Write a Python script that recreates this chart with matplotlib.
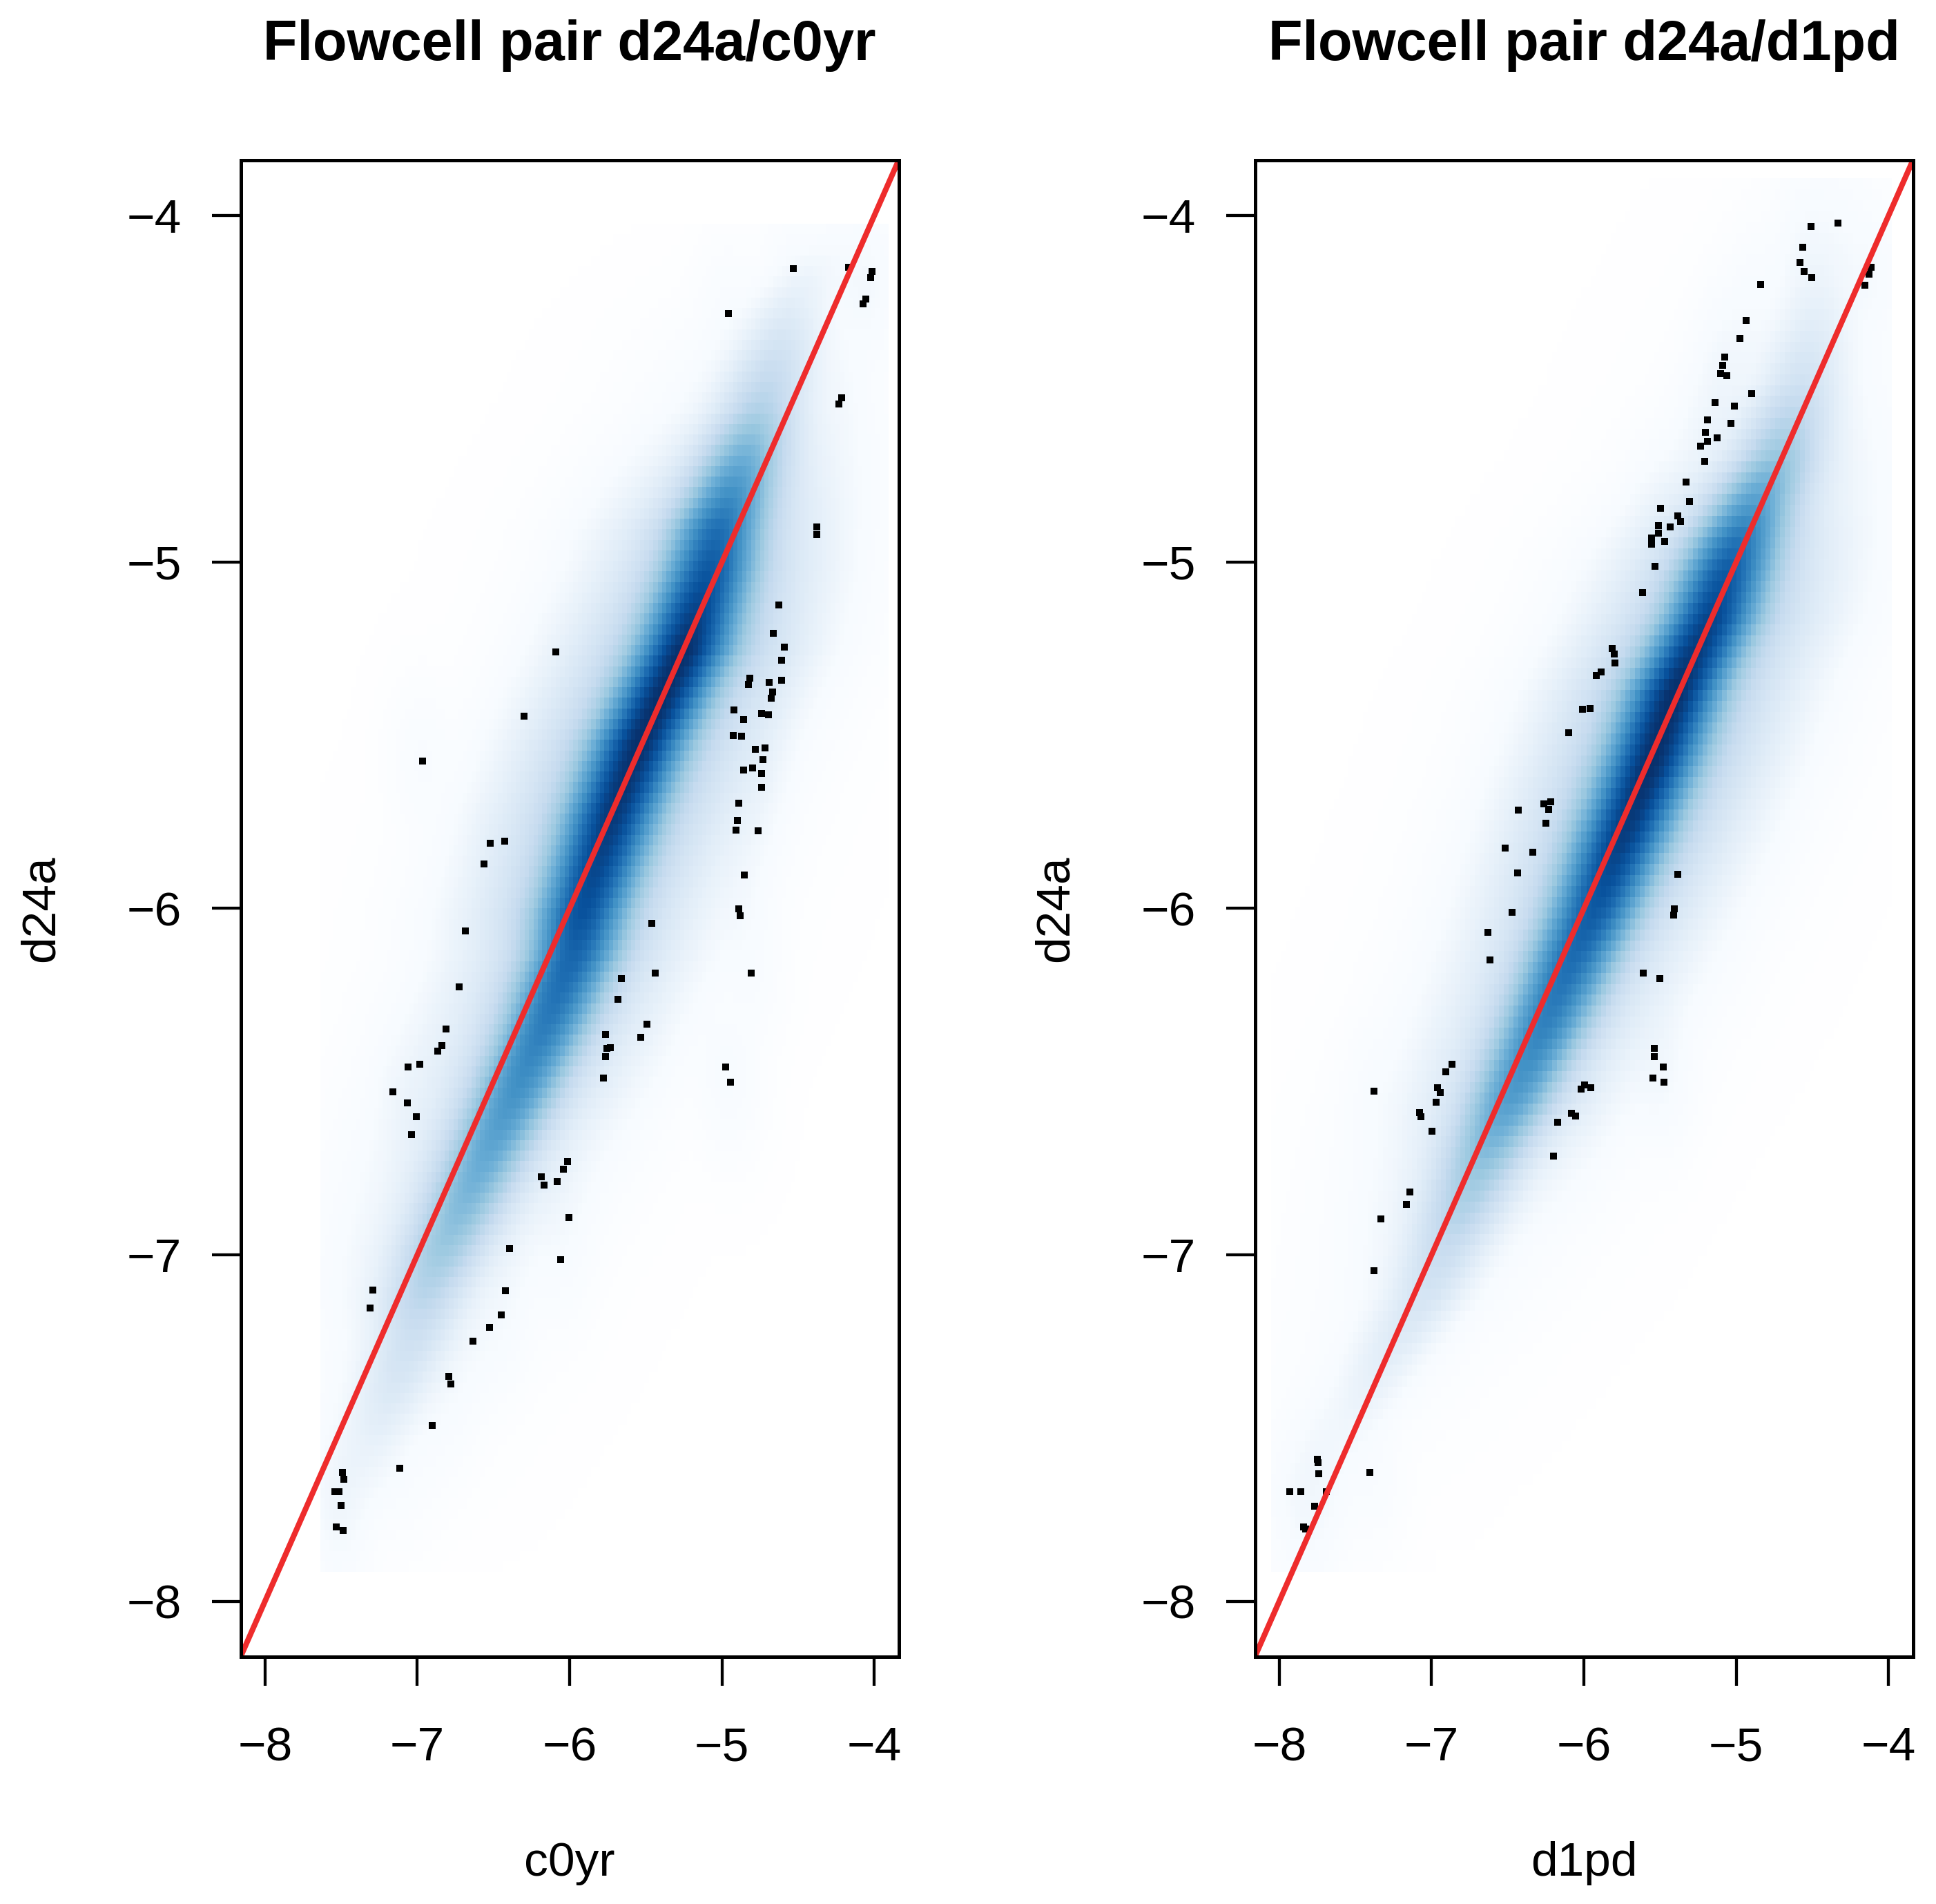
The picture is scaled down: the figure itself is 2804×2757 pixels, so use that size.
import numpy as np
import matplotlib
matplotlib.use("Agg")
import matplotlib.pyplot as plt
from matplotlib.colors import LinearSegmentedColormap

plt.rcParams['font.family'] = ['Liberation Sans', 'DejaVu Sans']

titles = ["Flowcell pair d24a/c0yr", "Flowcell pair d24a/d1pd"]
x_labels = ["c0yr", "d1pd"]
y_label = "d24a"
ticks = [-8, -7, -6, -5, -4]

# the lowest-density points that smoothScatter draws as dots
c0yr_x = [-4.533, -4.170, -4.014, -4.025, -4.056, -4.075, -4.958, -4.214, -4.234, -4.378, -4.378,
          -4.625, -4.661, -4.592, -4.608, -6.090, -4.816, -4.825, -4.689, -4.611, -4.670, -4.675,
          -4.922, -4.739, -4.694, -4.858, -6.301, -4.927, -4.872, -4.780, -4.717, -4.733, -4.858,
          -4.797, -4.742, -6.965, -4.739, -4.889, -4.897, -4.908, -4.764, -6.520, -6.426, -6.562,
          -4.852, -4.889, -4.880, -5.463,
          -6.687, -5.438, -4.808, -5.660, -6.726, -5.682, -5.491, -6.812, -5.763, -5.532, -6.840,
          -6.865, -5.732, -5.755, -5.766, -6.984, -7.059, -4.977, -5.780, -4.944, -7.159, -7.067,
          -7.006, -7.040, -6.016, -6.043, -6.188, -6.168, -6.082, -6.007, -6.396, -6.060, -7.292,
          -6.421, -7.312,
          -6.448, -6.526, -6.634, -6.795, -6.779, -6.901, -7.114, -7.492, -7.481, -7.542, -7.514,
          -7.500, -7.534, -7.486]
c0yr_y = [-4.154, -4.149, -4.162, -4.180, -4.241, -4.254, -4.282, -4.526, -4.543, -4.899, -4.921,
          -5.124, -5.205, -5.245, -5.284, -5.259, -5.335, -5.354, -5.347, -5.342, -5.376, -5.393,
          -5.428, -5.437, -5.442, -5.456, -5.446, -5.500, -5.503, -5.541, -5.537, -5.570, -5.600,
          -5.595, -5.610, -5.574, -5.650, -5.696, -5.747, -5.774, -5.775, -5.812, -5.806, -5.871,
          -5.903, -6.001, -6.021, -6.043,
          -6.066, -6.186, -6.187, -6.202, -6.226, -6.262, -6.335, -6.348, -6.364, -6.373, -6.395,
          -6.412, -6.402, -6.404, -6.427, -6.449, -6.458, -6.457, -6.490, -6.502, -6.529, -6.561,
          -6.602, -6.653, -6.731, -6.752, -6.775, -6.798, -6.788, -6.892, -6.983, -7.014, -7.102,
          -7.104, -7.153,
          -7.173, -7.209, -7.249, -7.351, -7.373, -7.492, -7.617, -7.627, -7.647, -7.684, -7.684,
          -7.724, -7.786, -7.796]

d1pd_x = [-4.332, -4.507, -4.565, -4.582, -4.554, -4.504, -4.116, -4.130, -4.155, -4.842, -4.936,
          -4.978, -5.075, -5.089, -5.105, -5.061, -4.898, -5.141, -5.011, -5.191, -5.033, -5.202,
          -5.127, -5.191, -5.233, -5.205, -5.330, -5.305, -5.496, -5.382, -5.368, -5.510, -5.435,
          -5.512, -5.557, -5.468, -5.557,
          -5.535, -5.615, -5.814, -5.801, -5.795, -5.889, -5.917, -6.011, -5.961, -6.100, -6.216,
          -6.263, -6.230, -6.429, -6.249, -6.515, -6.338, -6.435, -5.382, -6.474, -5.407, -5.413,
          -6.629, -6.615, -5.612, -5.504, -5.540, -5.537, -5.479, -5.546, -5.474, -6.867, -6.909,
          -7.379, -6.961, -6.945, -6.970, -7.080, -7.069, -6.997, -5.994, -6.017, -5.953, -6.083,
          -6.053, -6.172, -6.199, -7.144, -7.166, -7.335, -7.379,
          -7.751, -7.745, -7.740, -7.407, -7.931, -7.859, -7.690, -7.770, -7.839, -7.828]
d1pd_y = [-4.021, -4.031, -4.092, -4.136, -4.161, -4.180, -4.149, -4.169, -4.201, -4.200, -4.303,
          -4.355, -4.409, -4.432, -4.456, -4.463, -4.515, -4.541, -4.550, -4.590, -4.600, -4.625,
          -4.642, -4.651, -4.665, -4.709, -4.769, -4.826, -4.846, -4.867, -4.882, -4.894, -4.898,
          -4.916, -4.930, -4.940, -4.948,
          -5.013, -5.089, -5.249, -5.266, -5.291, -5.318, -5.328, -5.425, -5.424, -5.493, -5.693,
          -5.698, -5.714, -5.717, -5.755, -5.826, -5.837, -5.898, -5.901, -6.011, -6.001, -6.020,
          -6.069, -6.148, -6.187, -6.202, -6.403, -6.427, -6.457, -6.489, -6.502, -6.449, -6.471,
          -6.528, -6.518, -6.531, -6.560, -6.589, -6.602, -6.643, -6.510, -6.521, -6.517, -6.591,
          -6.599, -6.618, -6.714, -6.819, -6.854, -6.896, -7.045,
          -7.590, -7.600, -7.631, -7.627, -7.684, -7.684, -7.684, -7.725, -7.786, -7.792]

# ridge of the smoothed density: d24a level, centre of the ridge, colour level at the ridge
c0yr_ridge_y = [-7.90, -7.76, -7.56, -7.36, -7.23, -7.13, -6.98, -6.77, -6.56, -6.34,
                -6.13, -6.02, -5.73, -5.52, -5.25, -5.02, -4.90, -4.55, -4.26, -4.04]
c0yr_ridge_x = [-7.52, -7.45, -7.31, -7.13, -7.02, -6.965, -6.826, -6.604, -6.382, -6.16,
                -5.97, -5.92, -5.716, -5.535, -5.244, -5.08, -5.02, -4.744, -4.55, -4.27]
c0yr_ridge_level = [0.04, 0.10, 0.17, 0.25, 0.30, 0.36, 0.45, 0.55, 0.65, 0.74,
                    0.82, 0.88, 0.97, 1.0, 1.0, 0.86, 0.78, 0.38, 0.20, 0.08]
c0yr_range_x = (-7.62, -3.92)
c0yr_range_y = (-7.90, -4.04)

d1pd_ridge_y = [-7.86, -7.70, -7.50, -7.30, -7.126, -6.984, -6.770, -6.556, -6.343, -6.129, -6.019,
                -5.805, -5.592, -5.378, -5.164, -5.022, -4.935, -4.835, -4.692, -4.479, -4.194, -3.91]
d1pd_ridge_x = [-7.86, -7.80, -7.554, -7.305, -7.055, -6.917, -6.709, -6.488, -6.266, -6.058, -5.947,
                -5.76, -5.573, -5.407, -5.172, -5.061, -4.99, -4.895, -4.729, -4.576, -4.45, -4.33]
d1pd_ridge_level = [0.04, 0.08, 0.14, 0.20, 0.26, 0.32, 0.45, 0.62, 0.72, 0.80, 0.85,
                    0.95, 1.0, 1.0, 0.93, 0.85, 0.76, 0.62, 0.45, 0.28, 0.15, 0.06]
d1pd_range_x = (-8.04, -4.0)
d1pd_range_y = (-7.90, -3.91)

blues9 = ["#F7FBFF", "#DEEBF7", "#C6DBEF", "#9ECAE1", "#6BAED6",
          "#4292C6", "#2171B5", "#08519C", "#08306B"]
cmap = LinearSegmentedColormap.from_list("smooth", ["white"] + blues9, N=256)


def smooth_map(ridge_y, ridge_x, ridge_level, px, py, rx, ry, nbin=128):
    gx = np.linspace(rx[0], rx[1], nbin)
    gy = np.linspace(ry[0], ry[1], nbin)
    X, Y = np.meshgrid(gx, gy)
    cx = np.interp(Y, ridge_y, ridge_x)
    amp = np.interp(Y, ridge_y, ridge_level, left=0, right=0)
    d = X - cx
    lev = amp * (0.6 * np.exp(-0.5 * (d / 0.2) ** 2) + 0.4 * np.exp(-0.5 * (d / 0.65) ** 2))
    dens = lev ** 4
    # the sparse points add a faint halo of their own
    for a, b in zip(px, py):
        dens += 6e-5 * np.exp(-0.5 * ((X - a) ** 2 + (Y - b) ** 2) / 0.1 ** 2)
    z = dens ** 0.25
    hx = (gx[1] - gx[0]) / 2
    hy = (gy[1] - gy[0]) / 2
    extent = (gx[0] - hx, gx[-1] + hx, gy[0] - hy, gy[-1] + hy)
    return z / z.max(), extent


panels = [
    (c0yr_ridge_y, c0yr_ridge_x, c0yr_ridge_level, c0yr_x, c0yr_y, c0yr_range_x, c0yr_range_y),
    (d1pd_ridge_y, d1pd_ridge_x, d1pd_ridge_level, d1pd_x, d1pd_y, d1pd_range_x, d1pd_range_y),
]

fig = plt.figure(figsize=(14.02, 13.785), dpi=200)
ax_lefts = [0.1243, 0.6482]

for i, (ry_, rx_, rl_, px, py, rangex, rangey) in enumerate(panels):
    ax = fig.add_axes([ax_lefts[i], 0.1299, 0.3399, 0.7860])
    z, extent = smooth_map(ry_, rx_, rl_, px, py, rangex, rangey)
    ax.imshow(z, extent=extent, origin='lower', cmap=cmap, vmin=0, vmax=1,
              interpolation='nearest', aspect='auto', zorder=1)
    ax.plot(px, py, 's', ms=3.6, mew=0, color='black', zorder=3)
    ax.axline((-8, -8), slope=1, color='#EE2C2C', lw=2.9, zorder=4)

    ax.set_xlim(-8.16, -3.84)
    ax.set_ylim(-8.16, -3.84)
    ax.set_xticks(ticks)
    ax.set_yticks(ticks)
    ax.tick_params(length=15.1, width=1.55, labelsize=25, color='black')
    ax.tick_params(axis='x', pad=21)
    ax.tick_params(axis='y', pad=15.8)
    for s in ax.spines.values():
        s.set_linewidth(1.8)
        s.set_zorder(5)

    ax.set_xlabel(x_labels[i], fontsize=25, labelpad=37)
    ax.set_ylabel(y_label, fontsize=25, labelpad=33)
    ax.set_title(titles[i], fontsize=29.2, fontweight='bold', pad=52)

fig.savefig("out.png", dpi=200)
